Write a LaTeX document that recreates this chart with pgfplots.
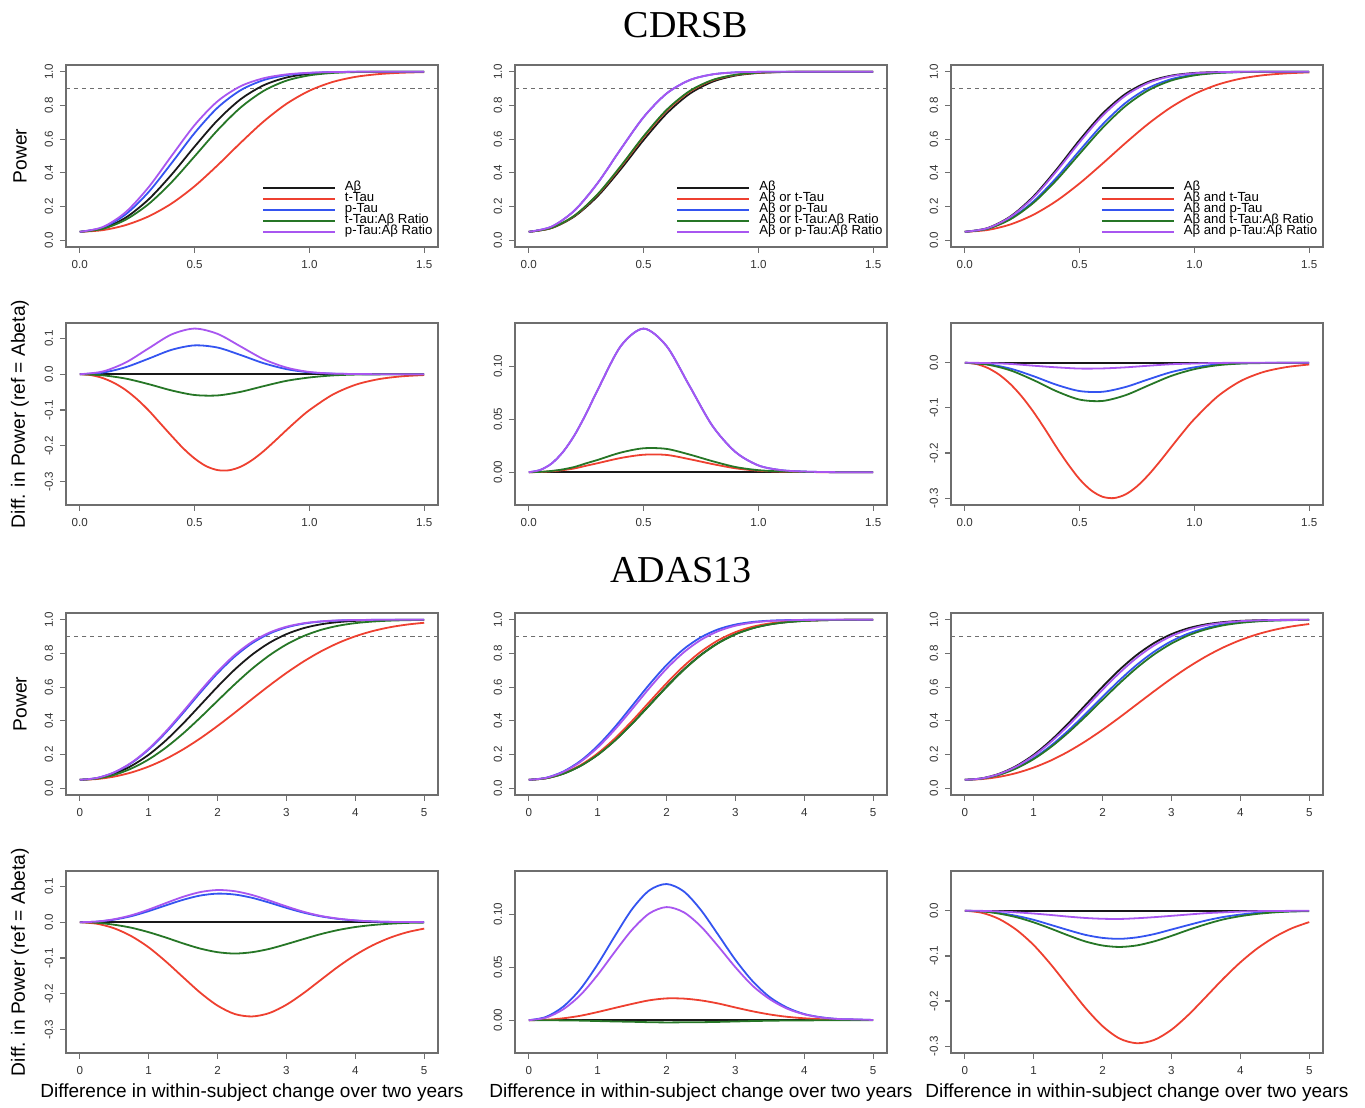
\documentclass[border=0pt]{standalone}
\usepackage{fontspec}
\setmainfont{Liberation Sans}
\newfontfamily\titlefont{Liberation Serif}
\usepackage{pgfplots}
\usepackage{pgfplotstable}
\pgfplotsset{compat=1.18}
\usetikzlibrary{calc}

\definecolor{cb}{RGB}{25,25,25}
\definecolor{cr}{RGB}{238,64,48}
\definecolor{cu}{RGB}{52,84,240}
\definecolor{cg}{RGB}{38,118,38}
\definecolor{cp}{RGB}{168,86,240}
\definecolor{cax}{RGB}{110,110,110}

% ---------------- CDRSB power ----------------
\pgfplotstableread{
x   b      r      u      g      p
0.0 0.050  0.050  0.050  0.050  0.050
0.1 0.0706 0.0599 0.0751 0.0675 0.0782
0.2 0.1342 0.0900 0.1538 0.1220 0.1669
0.3 0.2429 0.1418 0.2864 0.2152 0.3152
0.4 0.3899 0.2181 0.4580 0.3446 0.5010
0.5 0.5557 0.3205 0.6362 0.4977 0.6831
0.6 0.7121 0.4447 0.7865 0.6529 0.8247
0.7 0.8362 0.5778 0.8899 0.7870 0.9138
0.8 0.9190 0.7040 0.9499 0.8856 0.9611
0.9 0.9655 0.8094 0.9797 0.9470 0.9841
1.0 0.9875 0.8873 0.9927 0.9784 0.9938
1.1 0.9961 0.9387 0.9977 0.9927 0.9980
1.2 0.9989 0.9693 0.9994 0.9979 0.9995
1.3 0.9997 0.9857 0.9998 0.9993 0.9998
1.4 0.9999 0.9939 0.9999 0.9998 0.9999
1.5 1.0    0.9977 1.0    1.0    1.0
}\cdpa
\pgfplotstableread{
x   b      r      u      g      p
0.0 0.050  0.050  0.050  0.050  0.050
0.1 0.0727 0.0736 0.0810 0.0739 0.0810
0.2 0.1425 0.1461 0.1778 0.1475 0.1778
0.3 0.2618 0.2703 0.3395 0.2734 0.3395
0.4 0.4208 0.4342 0.5398 0.4393 0.5398
0.5 0.5948 0.6113 0.7305 0.6174 0.7305
0.6 0.7515 0.7678 0.8707 0.7735 0.8707
0.7 0.8685 0.8808 0.9500 0.8852 0.9500
0.8 0.9405 0.9482 0.9842 0.9509 0.9842
0.9 0.9771 0.9808 0.9962 0.9820 0.9962
1.0 0.9927 0.9941 0.9991 0.9946 0.9991
1.1 0.9979 0.9984 0.9998 0.9986 0.9998
1.2 0.9994 0.9996 1.0    0.9997 1.0
1.3 0.9999 0.9999 1.0    1.0    1.0
1.4 1.0    1.0    1.0    1.0    1.0
1.5 1.0    1.0    1.0    1.0    1.0
}\cdpb
\pgfplotstableread{
x   b      r      u      g      p
0.0 0.050  0.050  0.050  0.050  0.050
0.1 0.0727 0.0610 0.0694 0.0684 0.0720
0.2 0.1425 0.0945 0.1293 0.1254 0.1398
0.3 0.2618 0.1522 0.2319 0.2232 0.2552
0.4 0.4208 0.2340 0.3719 0.3576 0.4106
0.5 0.5948 0.3373 0.5321 0.5132 0.5819
0.6 0.7515 0.4550 0.6872 0.6669 0.7389
0.7 0.8685 0.5770 0.8148 0.7966 0.8583
0.8 0.9405 0.6921 0.9038 0.8903 0.9339
0.9 0.9771 0.7908 0.9565 0.9481 0.9738
1.0 0.9927 0.8680 0.9826 0.9785 0.9910
1.1 0.9979 0.9229 0.9941 0.9923 0.9974
1.2 0.9994 0.9585 0.9982 0.9975 0.9993
1.3 0.9999 0.9793 0.9995 0.9992 0.9998
1.4 1.0    0.9903 0.9999 0.9998 1.0
1.5 1.0    0.9961 1.0    1.0    1.0
}\cdpc
% ---------------- CDRSB differences ----------------
\pgfplotstableread{
x   u       g       p
0.0 0       0       0
0.1 0.0045  -0.0031 0.0076
0.2 0.0196  -0.0122 0.0327
0.3 0.0435  -0.0277 0.0723
0.4 0.0681  -0.0453 0.1111
0.5 0.0805  -0.0580 0.1274
0.6 0.0744  -0.0592 0.1126
0.7 0.0537  -0.0492 0.0776
0.8 0.0309  -0.0334 0.0421
0.9 0.0142  -0.0185 0.0186
1.0 0.0052  -0.0091 0.0063
1.1 0.0016  -0.0034 0.0019
1.2 0.0005  -0.0010 0.0006
1.3 0.0001  -0.0004 0.0001
1.4 0       -0.0001 0
1.5 0       0       0
}\cdda
\pgfplotstableread{
x    r      u      g      p
0.0  0      0      0      0
0.05 0.0002 0.0021 0.0003 0.0021
0.1  0.0009 0.0083 0.0012 0.0083
0.15 0.0020 0.0194 0.0027 0.0194
0.2  0.0036 0.0353 0.0050 0.0353
0.25 0.0061 0.0554 0.0084 0.0554
0.3  0.0085 0.0777 0.0116 0.0777
0.4  0.0134 0.1190 0.0185 0.1190
0.5  0.0165 0.1357 0.0226 0.1357
0.6  0.0163 0.1192 0.0220 0.1192
0.7  0.0123 0.0815 0.0167 0.0815
0.8  0.0077 0.0437 0.0104 0.0437
0.9  0.0037 0.0191 0.0049 0.0191
1.0  0.0014 0.0064 0.0019 0.0064
1.1  0.0005 0.0019 0.0007 0.0019
1.2  0.0002 0.0006 0.0003 0.0006
1.3  0      0.0001 0.0001 0.0001
1.4  0      0      0      0
1.5  0      0      0      0
}\cddb
\pgfplotstableread{
x   u       g       p
0.0 0       0       0
0.1 -0.0033 -0.0043 -0.0007
0.2 -0.0132 -0.0171 -0.0027
0.3 -0.0299 -0.0386 -0.0066
0.4 -0.0489 -0.0632 -0.0102
0.5 -0.0627 -0.0816 -0.0129
0.6 -0.0643 -0.0846 -0.0126
0.7 -0.0537 -0.0719 -0.0102
0.8 -0.0367 -0.0502 -0.0066
0.9 -0.0206 -0.0290 -0.0033
1.0 -0.0101 -0.0142 -0.0017
1.1 -0.0038 -0.0056 -0.0005
1.2 -0.0012 -0.0019 -0.0001
1.3 -0.0004 -0.0007 -0.0001
1.4 -0.0001 -0.0002 0
1.5 0       0       0
}\cddc
% ---------------- ADAS13 power ----------------
\pgfplotstableread{
x    b      r      u      g      p
0.00 0.050  0.050  0.050  0.050  0.050
0.25 0.0591 0.0548 0.0608 0.0576 0.0610
0.50 0.0862 0.0692 0.0935 0.0792 0.0946
0.75 0.1327 0.0937 0.1497 0.1173 0.1522
1.00 0.1988 0.1287 0.2298 0.1710 0.2341
1.25 0.2840 0.1743 0.3310 0.2412 0.3375
1.50 0.3842 0.2306 0.4468 0.3251 0.4552
1.75 0.4931 0.2963 0.5676 0.4195 0.5773
2.00 0.6025 0.3697 0.6823 0.5189 0.6924
2.25 0.7045 0.4483 0.7818 0.6171 0.7911
2.50 0.7922 0.5292 0.8604 0.7085 0.8683
2.75 0.8624 0.6088 0.9172 0.7879 0.9231
3.00 0.9145 0.6842 0.9545 0.8533 0.9586
3.25 0.9502 0.7525 0.9769 0.9033 0.9793
3.50 0.9728 0.8120 0.9891 0.9397 0.9904
3.75 0.9860 0.8619 0.9953 0.9642 0.9961
4.00 0.9933 0.9018 0.9981 0.9799 0.9984
4.25 0.9970 0.9325 0.9991 0.9892 0.9993
4.50 0.9988 0.9553 0.9997 0.9946 0.9998
4.75 0.9993 0.9713 0.9999 0.9974 0.9999
5.00 0.9998 0.9820 1.0    0.9988 1.0
}\adpa
\pgfplotstableread{
x    b      r      u      g      p
0.00 0.050  0.050  0.050  0.050  0.050
0.25 0.0591 0.0595 0.0622 0.0591 0.0615
0.50 0.0862 0.0880 0.0990 0.0860 0.0965
0.75 0.1327 0.1369 0.1622 0.1323 0.1565
1.00 0.1988 0.2065 0.2517 0.1980 0.2416
1.25 0.2840 0.2956 0.3636 0.2828 0.3487
1.50 0.3842 0.3996 0.4892 0.3827 0.4697
1.75 0.4931 0.5119 0.6158 0.4912 0.5940
2.00 0.6025 0.6231 0.7312 0.6004 0.7094
2.25 0.7045 0.7249 0.8262 0.7025 0.8065
2.50 0.7922 0.8109 0.8962 0.7903 0.8807
2.75 0.8624 0.8782 0.9431 0.8608 0.9322
3.00 0.9145 0.9265 0.9715 0.9133 0.9645
3.25 0.9502 0.9586 0.9870 0.9494 0.9827
3.50 0.9728 0.9782 0.9945 0.9723 0.9926
3.75 0.9860 0.9892 0.9979 0.9857 0.9969
4.00 0.9933 0.9951 0.9991 0.9931 0.9988
4.25 0.9970 0.9979 0.9997 0.9969 0.9995
4.50 0.9988 0.9992 0.9999 0.9988 0.9999
4.75 0.9993 0.9996 1.0    0.9993 1.0
5.00 0.9998 0.9999 1.0    0.9998 1.0
}\adpb
\pgfplotstableread{
x    b      r      u      g      p
0.00 0.050  0.050  0.050  0.050  0.050
0.25 0.0591 0.0545 0.0580 0.0577 0.0588
0.50 0.0862 0.0678 0.0812 0.0798 0.0847
0.75 0.1327 0.0904 0.1214 0.1184 0.1291
1.00 0.1988 0.1228 0.1787 0.1731 0.1926
1.25 0.2840 0.1650 0.2526 0.2444 0.2746
1.50 0.3842 0.2171 0.3414 0.3297 0.3712
1.75 0.4931 0.2782 0.4397 0.4251 0.4771
2.00 0.6025 0.3470 0.5424 0.5255 0.5847
2.25 0.7045 0.4213 0.6423 0.6243 0.6863
2.50 0.7922 0.4988 0.7333 0.7155 0.7756
2.75 0.8624 0.5763 0.8107 0.7946 0.8482
3.00 0.9145 0.6510 0.8729 0.8588 0.9032
3.25 0.9502 0.7202 0.9187 0.9080 0.9419
3.50 0.9728 0.7820 0.9511 0.9429 0.9674
3.75 0.9860 0.8351 0.9721 0.9667 0.9824
4.00 0.9933 0.8790 0.9848 0.9813 0.9914
4.25 0.9970 0.9140 0.9925 0.9901 0.9961
4.50 0.9988 0.9408 0.9964 0.9952 0.9982
4.75 0.9993 0.9606 0.9983 0.9977 0.9991
5.00 0.9998 0.9746 0.9991 0.9989 0.9997
}\adpc
% ---------------- ADAS13 differences ----------------
\pgfplotstableread{
x    r       u      g       p
0.00 0       0      0       0
0.25 -0.0043 0.0017 -0.0015 0.0019
0.50 -0.0170 0.0073 -0.0070 0.0084
0.75 -0.0390 0.0170 -0.0154 0.0195
1.00 -0.0701 0.0310 -0.0278 0.0353
1.25 -0.1097 0.0470 -0.0428 0.0535
1.50 -0.1536 0.0626 -0.0591 0.0710
1.75 -0.1968 0.0745 -0.0736 0.0842
2.00 -0.2328 0.0798 -0.0836 0.0899
2.25 -0.2562 0.0773 -0.0874 0.0866
2.50 -0.2630 0.0682 -0.0837 0.0761
2.75 -0.2536 0.0548 -0.0745 0.0607
3.00 -0.2303 0.0400 -0.0612 0.0441
3.25 -0.1977 0.0267 -0.0469 0.0291
3.50 -0.1608 0.0163 -0.0331 0.0176
3.75 -0.1241 0.0093 -0.0218 0.0101
4.00 -0.0915 0.0048 -0.0134 0.0051
4.25 -0.0645 0.0021 -0.0078 0.0023
4.50 -0.0435 0.0009 -0.0042 0.0010
4.75 -0.0280 0.0006 -0.0019 0.0006
5.00 -0.0178 0.0002 -0.0010 0.0002
}\adda
\pgfplotstableread{
x    r      u      g       p
0.00 0      0      0       0
0.25 0.0004 0.0031 0       0.0024
0.50 0.0018 0.0128 -0.0002 0.0103
0.75 0.0042 0.0295 -0.0004 0.0238
1.00 0.0077 0.0529 -0.0008 0.0428
1.25 0.0116 0.0796 -0.0012 0.0647
1.50 0.0154 0.1050 -0.0015 0.0855
1.75 0.0188 0.1227 -0.0019 0.1009
2.00 0.0206 0.1287 -0.0021 0.1069
2.25 0.0204 0.1217 -0.0020 0.1020
2.50 0.0187 0.1040 -0.0019 0.0885
2.75 0.0158 0.0807 -0.0016 0.0698
3.00 0.0120 0.0570 -0.0012 0.0500
3.25 0.0084 0.0368 -0.0008 0.0325
3.50 0.0054 0.0217 -0.0005 0.0198
3.75 0.0032 0.0119 -0.0003 0.0109
4.00 0.0018 0.0058 -0.0002 0.0055
4.25 0.0009 0.0027 -0.0001 0.0025
4.50 0.0004 0.0011 0       0.0011
4.75 0.0003 0.0007 0       0.0007
5.00 0.0001 0.0002 0       0.0002
}\addb
\pgfplotstableread{
x    r       u       g       p
0.00 0       0       0       0
0.25 -0.0046 -0.0011 -0.0014 -0.0003
0.50 -0.0184 -0.0050 -0.0064 -0.0015
0.75 -0.0423 -0.0113 -0.0143 -0.0036
1.00 -0.0760 -0.0201 -0.0257 -0.0062
1.25 -0.1190 -0.0314 -0.0396 -0.0094
1.50 -0.1671 -0.0428 -0.0545 -0.0130
1.75 -0.2149 -0.0534 -0.0680 -0.0160
2.00 -0.2555 -0.0601 -0.0770 -0.0178
2.25 -0.2832 -0.0622 -0.0802 -0.0182
2.50 -0.2934 -0.0589 -0.0767 -0.0166
2.75 -0.2861 -0.0517 -0.0678 -0.0142
3.00 -0.2635 -0.0416 -0.0557 -0.0113
3.25 -0.2300 -0.0315 -0.0422 -0.0083
3.50 -0.1908 -0.0217 -0.0299 -0.0054
3.75 -0.1509 -0.0139 -0.0193 -0.0036
4.00 -0.1143 -0.0085 -0.0120 -0.0019
4.25 -0.0830 -0.0045 -0.0069 -0.0009
4.50 -0.0580 -0.0024 -0.0036 -0.0006
4.75 -0.0387 -0.0010 -0.0016 -0.0002
5.00 -0.0252 -0.0007 -0.0009 -0.0001
}\addc

\pgfplotsset{
  rbase/.style={
    scale only axis, width=186pt, height=91pt,
    axis line style={cax, line width=0.6pt},
    tick style={cax, line width=0.6pt},
    tick align=outside, major tick length=3pt,
    xtick pos=left, ytick pos=left,
    scaled ticks=false, no markers, clip=true,
    tick label style={font=\fontsize{5.8}{6}\selectfont, text=black!80},
    /pgf/number format/assume math mode=true,
    yticklabel style={rotate=90, anchor=south},
    every axis plot/.append style={line width=0.9pt, smooth},
    legend style={draw=none, fill=none, anchor=north west,
      font=\fontsize{6.6}{6.6}\selectfont,
      nodes={inner sep=0pt, text height=4.2pt, text depth=1.3pt},
      column sep=4.5pt, row sep=0pt},
    legend cell align=left,
    legend image code/.code={\draw[##1, line width=0.9pt] (0pt,0pt) -- (36pt,0pt);},
    ylabel style={at={($(rel axis cs:0,0.5)+(-23pt,0pt)$)}, anchor=center, font=\fontsize{9.6}{10}\selectfont},
    xlabel style={at={($(rel axis cs:0.5,0)+(0pt,-20pt)$)}, anchor=center, font=\fontsize{9.5}{10}\selectfont},
  },
  pw/.style={ymin=-0.04, ymax=1.04, ytick={0,0.2,0.4,0.6,0.8,1.0},
    yticklabel style={/pgf/number format/fixed, /pgf/number format/fixed zerofill, /pgf/number format/precision=1}},
  cd/.style={xmin=-0.06, xmax=1.56, xtick={0,0.5,1,1.5},
    xticklabel style={/pgf/number format/fixed, /pgf/number format/fixed zerofill, /pgf/number format/precision=1}},
  ad/.style={xmin=-0.2, xmax=5.2, xtick={0,1,2,3,4,5}},
  dA/.style={ymin=-0.365, ymax=0.143, ytick={-0.3,-0.2,-0.1,0,0.1},
    yticklabel style={/pgf/number format/fixed, /pgf/number format/fixed zerofill, /pgf/number format/precision=1}},
  dB/.style={ymin=-0.031, ymax=0.141, ytick={0,0.05,0.1},
    yticklabel style={/pgf/number format/fixed, /pgf/number format/fixed zerofill, /pgf/number format/precision=2}},
  dC/.style={ymin=-0.315, ymax=0.088, ytick={-0.3,-0.2,-0.1,0},
    yticklabel style={/pgf/number format/fixed, /pgf/number format/fixed zerofill, /pgf/number format/precision=1}},
}

\begin{document}
\begin{tikzpicture}
\useasboundingbox (0pt,0pt) rectangle (682.5pt,554pt);

\node[font=\titlefont\fontsize{19}{19}\selectfont] at (343pt,541.5pt) {CDRSB};
\node[font=\titlefont\fontsize{19}{19}\selectfont] at (340.5pt,269pt) {ADAS13};

% ===== Row 1: CDRSB power =====
\begin{axis}[rbase, pw, cd, at={(33pt,430.5pt)}, anchor=south west, ylabel={Power},
  legend style={at={(0.510,0.379)}}]
\addplot[cax, line width=0.6pt, dash pattern=on 2pt off 2pt, forget plot] coordinates {(-0.06,0.9) (1.56,0.9)};
\addplot[cb] table[x=x,y=b] {\cdpa};
\addplot[cr] table[x=x,y=r] {\cdpa};
\addplot[cu] table[x=x,y=u] {\cdpa};
\addplot[cg] table[x=x,y=g] {\cdpa};
\addplot[cp] table[x=x,y=p] {\cdpa};
\legend{Aβ, t-Tau, p-Tau, t-Tau:Aβ Ratio, p-Tau:Aβ Ratio}
\end{axis}

\begin{axis}[rbase, pw, cd, at={(257.5pt,430.5pt)}, anchor=south west,
  legend style={at={(0.417,0.379)}}]
\addplot[cax, line width=0.6pt, dash pattern=on 2pt off 2pt, forget plot] coordinates {(-0.06,0.9) (1.56,0.9)};
\addplot[cb] table[x=x,y=b] {\cdpb};
\addplot[cr] table[x=x,y=r] {\cdpb};
\addplot[cu] table[x=x,y=u] {\cdpb};
\addplot[cg] table[x=x,y=g] {\cdpb};
\addplot[cp] table[x=x,y=p] {\cdpb};
\legend{Aβ, Aβ or t-Tau, Aβ or p-Tau, Aβ or t-Tau:Aβ Ratio, Aβ or p-Tau:Aβ Ratio}
\end{axis}

\begin{axis}[rbase, pw, cd, at={(475.5pt,430.5pt)}, anchor=south west,
  legend style={at={(0.386,0.379)}}]
\addplot[cax, line width=0.6pt, dash pattern=on 2pt off 2pt, forget plot] coordinates {(-0.06,0.9) (1.56,0.9)};
\addplot[cb] table[x=x,y=b] {\cdpc};
\addplot[cr] table[x=x,y=r] {\cdpc};
\addplot[cu] table[x=x,y=u] {\cdpc};
\addplot[cg] table[x=x,y=g] {\cdpc};
\addplot[cp] table[x=x,y=p] {\cdpc};
\legend{Aβ, Aβ and t-Tau, Aβ and p-Tau, Aβ and t-Tau:Aβ Ratio, Aβ and p-Tau:Aβ Ratio}
\end{axis}

% ===== Row 2: CDRSB differences =====
\begin{axis}[rbase, dA, cd, at={(33pt,301.5pt)}, anchor=south west, ylabel={Diff. in Power (ref = Abeta)}]
\addplot[cb] coordinates {(0,0) (1.5,0)};
\addplot[cr] coordinates {(0,0) (0.05,-0.0026) (0.1,-0.0107) (0.15,-0.0245) (0.2,-0.0442) (0.25,-0.0701)
  (0.3,-0.1011) (0.35,-0.1367) (0.4,-0.1722) (0.45,-0.2065) (0.5,-0.2352) (0.55,-0.2565) (0.6,-0.2676)
  (0.65,-0.2681) (0.7,-0.2584) (0.75,-0.2399) (0.8,-0.2150) (0.85,-0.1861) (0.9,-0.1560) (0.95,-0.1269)
  (1.0,-0.1002) (1.1,-0.0574) (1.2,-0.0296) (1.3,-0.0140) (1.4,-0.0060) (1.5,-0.0023)};
\addplot[cu] table[x=x,y=u] {\cdda};
\addplot[cg] table[x=x,y=g] {\cdda};
\addplot[cp] table[x=x,y=p] {\cdda};
\end{axis}

\begin{axis}[rbase, dB, cd, at={(257.5pt,301.5pt)}, anchor=south west]
\addplot[cb] coordinates {(0,0) (1.5,0)};
\addplot[cr] table[x=x,y=r] {\cddb};
\addplot[cu] table[x=x,y=u] {\cddb};
\addplot[cg] table[x=x,y=g] {\cddb};
\addplot[cp] table[x=x,y=p] {\cddb};
\end{axis}

\begin{axis}[rbase, dC, cd, at={(475.5pt,301.5pt)}, anchor=south west]
\addplot[cb] coordinates {(0,0) (1.5,0)};
\addplot[cr] coordinates {(0,0) (0.05,-0.0028) (0.1,-0.0116) (0.15,-0.0265) (0.2,-0.0480) (0.25,-0.0759)
  (0.3,-0.1095) (0.35,-0.1475) (0.4,-0.1876) (0.45,-0.2249) (0.5,-0.2579) (0.55,-0.2825) (0.6,-0.2968)
  (0.65,-0.2997) (0.7,-0.2915) (0.75,-0.2736) (0.8,-0.2483) (0.85,-0.2183) (0.9,-0.1861) (0.95,-0.1543)
  (1.0,-0.1245) (1.1,-0.0750) (1.2,-0.0409) (1.3,-0.0206) (1.4,-0.0097) (1.5,-0.0039)};
\addplot[cu] table[x=x,y=u] {\cddc};
\addplot[cg] table[x=x,y=g] {\cddc};
\addplot[cp] table[x=x,y=p] {\cddc};
\end{axis}

% ===== Row 3: ADAS13 power =====
\begin{axis}[rbase, pw, ad, at={(33pt,156.5pt)}, anchor=south west, ylabel={Power}]
\addplot[cax, line width=0.6pt, dash pattern=on 2pt off 2pt, forget plot] coordinates {(-0.2,0.9) (5.2,0.9)};
\addplot[cb] table[x=x,y=b] {\adpa};
\addplot[cr] table[x=x,y=r] {\adpa};
\addplot[cu] table[x=x,y=u] {\adpa};
\addplot[cg] table[x=x,y=g] {\adpa};
\addplot[cp] table[x=x,y=p] {\adpa};
\end{axis}

\begin{axis}[rbase, pw, ad, at={(257.5pt,156.5pt)}, anchor=south west]
\addplot[cax, line width=0.6pt, dash pattern=on 2pt off 2pt, forget plot] coordinates {(-0.2,0.9) (5.2,0.9)};
\addplot[cb] table[x=x,y=b] {\adpb};
\addplot[cr] table[x=x,y=r] {\adpb};
\addplot[cu] table[x=x,y=u] {\adpb};
\addplot[cg] table[x=x,y=g] {\adpb};
\addplot[cp] table[x=x,y=p] {\adpb};
\end{axis}

\begin{axis}[rbase, pw, ad, at={(475.5pt,156.5pt)}, anchor=south west]
\addplot[cax, line width=0.6pt, dash pattern=on 2pt off 2pt, forget plot] coordinates {(-0.2,0.9) (5.2,0.9)};
\addplot[cb] table[x=x,y=b] {\adpc};
\addplot[cr] table[x=x,y=r] {\adpc};
\addplot[cu] table[x=x,y=u] {\adpc};
\addplot[cg] table[x=x,y=g] {\adpc};
\addplot[cp] table[x=x,y=p] {\adpc};
\end{axis}

% ===== Row 4: ADAS13 differences =====
\begin{axis}[rbase, dA, ad, at={(33pt,27.5pt)}, anchor=south west, ylabel={Diff. in Power (ref = Abeta)},
  xlabel={Difference in within-subject change over two years}]
\addplot[cb] coordinates {(0,0) (5,0)};
\addplot[cr] table[x=x,y=r] {\adda};
\addplot[cu] table[x=x,y=u] {\adda};
\addplot[cg] table[x=x,y=g] {\adda};
\addplot[cp] table[x=x,y=p] {\adda};
\end{axis}

\begin{axis}[rbase, dB, ad, at={(257.5pt,27.5pt)}, anchor=south west,
  xlabel={Difference in within-subject change over two years}]
\addplot[cb] coordinates {(0,0) (5,0)};
\addplot[cr] table[x=x,y=r] {\addb};
\addplot[cu] table[x=x,y=u] {\addb};
\addplot[cg] table[x=x,y=g] {\addb};
\addplot[cp] table[x=x,y=p] {\addb};
\end{axis}

\begin{axis}[rbase, dC, ad, at={(475.5pt,27.5pt)}, anchor=south west,
  xlabel={Difference in within-subject change over two years}]
\addplot[cb] coordinates {(0,0) (5,0)};
\addplot[cr] table[x=x,y=r] {\addc};
\addplot[cu] table[x=x,y=u] {\addc};
\addplot[cg] table[x=x,y=g] {\addc};
\addplot[cp] table[x=x,y=p] {\addc};
\end{axis}
\end{tikzpicture}
\end{document}
